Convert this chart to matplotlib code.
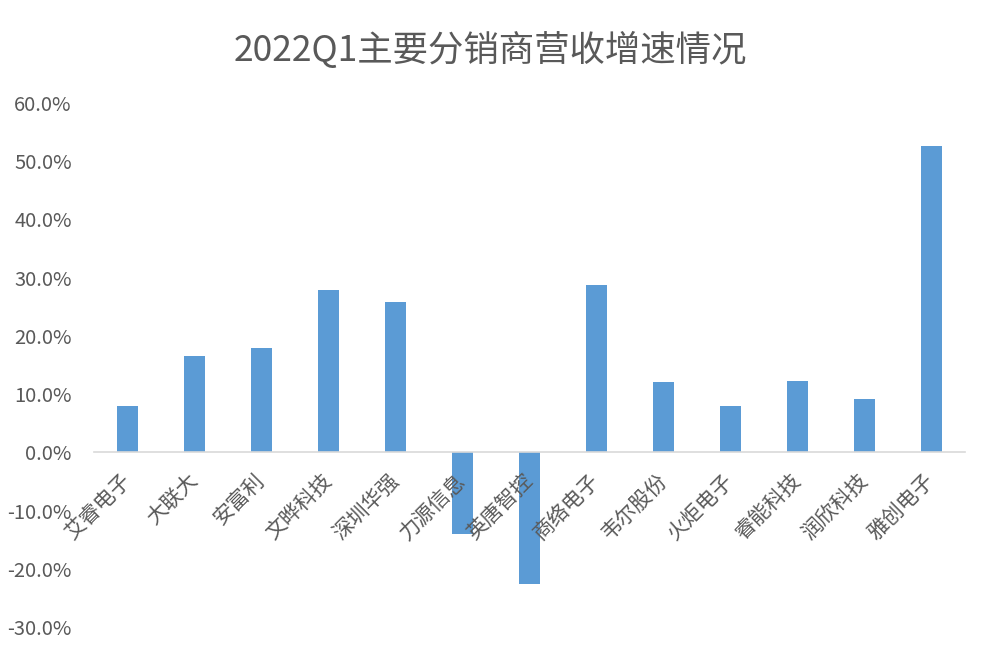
import matplotlib.pyplot as plt
from matplotlib.ticker import FuncFormatter
from matplotlib.transforms import ScaledTranslation

plt.rcParams['font.family'] = ['Noto Sans CJK SC', 'DejaVu Sans']

# Q1 2022 revenue growth of the main distributors (%)
companies = ['艾睿电子', '大联大', '安富利', '文晔科技', '深圳华强', '力源信息', '英唐智控',
             '商络电子', '韦尔股份', '火炬电子', '睿能科技', '润欣科技', '雅创电子']
growth = [7.9, 16.6, 18.0, 27.9, 25.9, -14.1, -22.6, 28.8, 12.0, 7.9, 12.2, 9.1, 52.6]
yticks = [-30, -20, -10, 0, 10, 20, 30, 40, 50, 60]

text_color = '#595959'

fig = plt.figure(figsize=(9.81, 6.56), dpi=100)
ax = fig.add_axes([94 / 981, 29 / 656, 871 / 981, 524 / 656])

x = range(len(companies))
ax.bar(x, growth, width=0.31, color='#5B9BD5', zorder=1)

ax.set_xlim(-0.5, len(companies) - 0.5)
ax.set_ylim(-30, 60)
ax.set_yticks(yticks)
ax.yaxis.set_major_formatter(FuncFormatter(lambda v, _: f'{v:.1f}%'))

for s in ['top', 'right', 'left']:
    ax.spines[s].set_visible(False)
ax.spines['bottom'].set_position(('data', 0))
ax.spines['bottom'].set_color('#D9D9D9')
ax.spines['bottom'].set_linewidth(1.2)
ax.spines['bottom'].set_zorder(2)

ax.set_xticks(list(x))
ax.set_xticklabels(companies, rotation=45, ha='right', rotation_mode='anchor',
                   fontsize=15, color=text_color)
ax.tick_params(axis='x', length=0, pad=12)
ax.tick_params(axis='y', length=0, pad=16, labelsize=14.5, labelcolor=text_color)
ax.xaxis.set_zorder(3)

# nudge the category labels a little to the left, like the original
shift = ScaledTranslation(-8 / 100, 0, fig.dpi_scale_trans)
for lbl in ax.get_xticklabels():
    lbl.set_transform(lbl.get_transform() + shift)

fig.text(0.5, 1 - 50 / 656, '2022Q1主要分销商营收增速情况', ha='center', va='center',
         fontsize=25.5, color=text_color)

plt.savefig('out.png', dpi=100)
